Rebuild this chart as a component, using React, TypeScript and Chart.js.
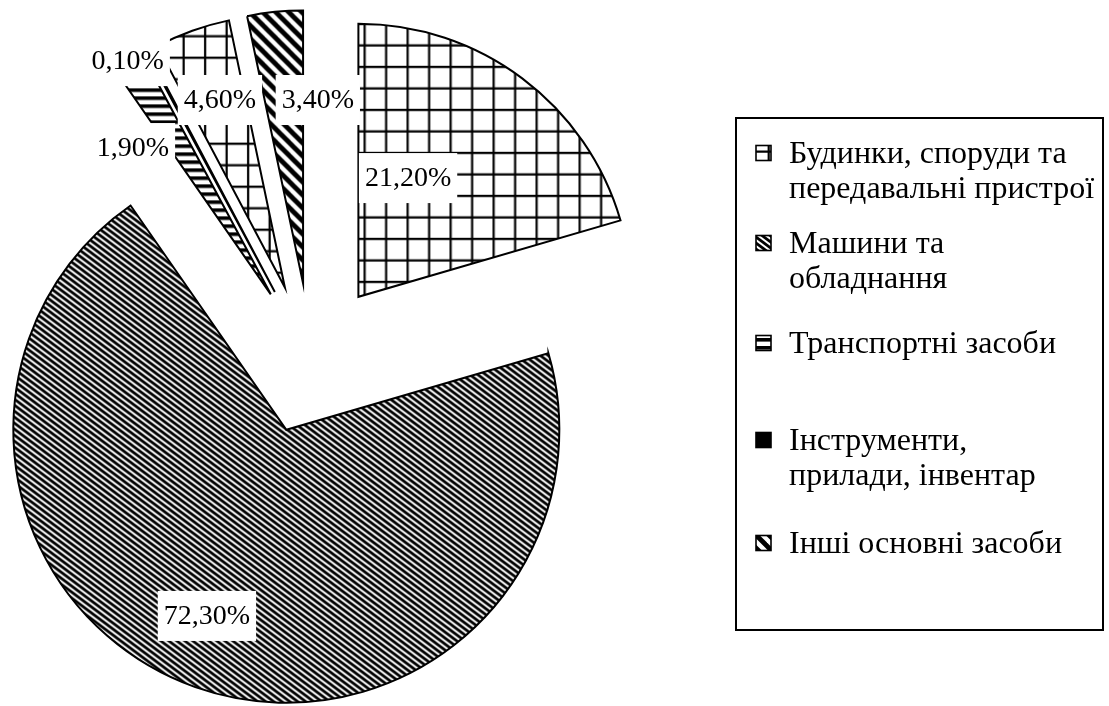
import React, { useEffect, useRef } from "react";
import { Chart, registerables } from "chart.js";

Chart.register(...registerables);

// ---- data ----
const categories = [
  "Будинки, споруди та передавальні пристрої",
  "Машини та обладнання",
  "Транспортні засоби",
  "Інструменти, прилади, інвентар",
  "",
  "Інші основні засоби",
];
const shares = [21.2, 72.3, 1.9, 0.1, 4.6, 3.4];
const legendLines = [
  ["Будинки, споруди та", "передавальні пристрої"],
  ["Машини та", "обладнання"],
  ["Транспортні засоби"],
  ["Інструменти,", "прилади, інвентар"],
  [],
  ["Інші основні засоби"],
];

// ---- styles / layout ----
const patternKinds = ["grid", "fineDiag", "hStripes", "solid", "grid", "wideDiag"];
const explode = [79, 74, 77, 77, 77, 77];
// label anchor: [angle clockwise from north (deg), distance px] from the slice vertex
const labelAnchors: [number, number][] = [
  [22.7, 128.7],
  [203.1, 202.4],
  [316.7, 201],
  [327.5, 273.8],
  [340.9, 198.5],
  [4.6, 184],
];
const legendItemY = [153, 243, 343, 440, 0, 543];
const LABEL_FONT = '28px "Liberation Serif", "Times New Roman", serif';
const LEGEND_FONT = '32px "Liberation Serif", "Times New Roman", serif';

function makePattern(kind: string): CanvasPattern | string {
  if (kind === "solid") return "#000";
  const c = document.createElement("canvas");
  const g = c.getContext("2d")!;
  const bg = () => {
    g.fillStyle = "#fff";
    g.fillRect(0, 0, c.width, c.height);
    g.strokeStyle = "#000";
    g.fillStyle = "#000";
  };
  if (kind === "grid") {
    c.width = 43;
    c.height = 43;
    bg();
    g.lineWidth = 2.2;
    for (const x of [16.2, 37.7]) {
      g.beginPath();
      g.moveTo(x, 0);
      g.lineTo(x, 43);
      g.stroke();
    }
    for (const y of [1.1, 22.6]) {
      g.beginPath();
      g.moveTo(0, y);
      g.lineTo(43, y);
      g.stroke();
    }
  } else if (kind === "hStripes") {
    c.width = 8;
    c.height = 8;
    bg();
    g.fillRect(0, 2, 8, 3.6);
  } else {
    const W = kind === "fineDiag" ? 8 : 13;
    const H = kind === "fineDiag" ? 6 : 13;
    c.width = W;
    c.height = H;
    bg();
    g.lineWidth = kind === "fineDiag" ? 2.8 : 4.8;
    for (let k = -2; k <= 2; k++) {
      g.beginPath();
      g.moveTo(k * W - W, -H);
      g.lineTo(k * W + 2 * W, 2 * H);
      g.stroke();
    }
  }
  return g.createPattern(c, "repeat")!;
}

function fmt(v: number) {
  return v.toFixed(2).replace(".", ",") + "%";
}

export default function App() {
  const ref = useRef<HTMLCanvasElement | null>(null);

  useEffect(() => {
    const canvas = ref.current!;
    const patterns = patternKinds.map(makePattern);

    const explodePlugin = {
      id: "explode",
      beforeDatasetDraw(chart: any, args: any) {
        const ctx = chart.ctx;
        args.meta.data.forEach((arc: any, i: number) => {
          const mid = (arc.startAngle + arc.endAngle) / 2;
          ctx.save();
          ctx.translate(Math.cos(mid) * explode[i], Math.sin(mid) * explode[i]);
          arc.draw(ctx, chart.chartArea);
          ctx.restore();
        });
        return false;
      },
    };

    const labelPlugin = {
      id: "sliceLabels",
      afterDatasetsDraw(chart: any) {
        const ctx = chart.ctx;
        const meta = chart.getDatasetMeta(0);
        const data = chart.data.datasets[0].data as number[];
        ctx.save();
        ctx.font = LABEL_FONT;
        ctx.textAlign = "center";
        ctx.textBaseline = "middle";
        meta.data.forEach((arc: any, i: number) => {
          const mid = (arc.startAngle + arc.endAngle) / 2;
          const vx = arc.x + Math.cos(mid) * explode[i];
          const vy = arc.y + Math.sin(mid) * explode[i];
          const [deg, r] = labelAnchors[i];
          const a = ((deg - 90) * Math.PI) / 180;
          const cx = vx + Math.cos(a) * r;
          const cy = vy + Math.sin(a) * r;
          const text = fmt(data[i]);
          const w = ctx.measureText(text).width + 12;
          const h = 50;
          ctx.fillStyle = "#fff";
          ctx.fillRect(cx - w / 2, cy - h / 2, w, h);
          ctx.fillStyle = "#000";
          ctx.fillText(text, cx, cy + 1);
        });
        ctx.restore();
      },
    };

    const legendPlugin = {
      id: "boxLegend",
      afterDraw(chart: any) {
        const ctx = chart.ctx;
        const bx = 736, by = 118, bw = 367, bh = 512;
        ctx.save();
        ctx.fillStyle = "#fff";
        ctx.fillRect(bx, by, bw, bh);
        ctx.lineWidth = 2;
        ctx.strokeStyle = "#000";
        ctx.strokeRect(bx, by, bw, bh);
        ctx.font = LEGEND_FONT;
        ctx.textBaseline = "middle";
        ctx.textAlign = "left";
        const labels = chart.data.labels as string[];
        labels.forEach((lab, i) => {
          if (!lab) return;
          const y = legendItemY[i];
          const s = 15;
          const ix = 756, iy = y - s / 2;
          ctx.fillStyle = patterns[i] as any;
          ctx.fillRect(ix, iy, s, s);
          ctx.lineWidth = 1.6;
          ctx.strokeStyle = "#000";
          ctx.strokeRect(ix, iy, s, s);
          ctx.fillStyle = "#000";
          legendLines[i].forEach((line, k) => {
            ctx.fillText(line, 789, y + 2 + k * 35);
          });
        });
        ctx.restore();
      },
    };

    const chart = new Chart(canvas, {
      type: "pie",
      data: {
        labels: categories,
        datasets: [
          {
            data: shares,
            backgroundColor: patterns as any,
            borderColor: "#000",
            borderWidth: 2,
            borderJoinStyle: "miter",
          } as any,
        ],
      },
      options: {
        responsive: false,
        animation: false,
        events: [],
        radius: 273,
        layout: { padding: { left: 0, top: 14, right: 487, bottom: 0 } },
        plugins: { legend: { display: false }, tooltip: { enabled: false } },
      } as any,
      plugins: [explodePlugin, labelPlugin, legendPlugin],
    });
    return () => chart.destroy();
  }, []);

  return (
    <div style={{ position: "absolute", left: 0, top: 0, width: 1109, height: 706, background: "#fff" }}>
      <canvas ref={ref} width={1109} height={706} style={{ display: "block" }} />
    </div>
  );
}
